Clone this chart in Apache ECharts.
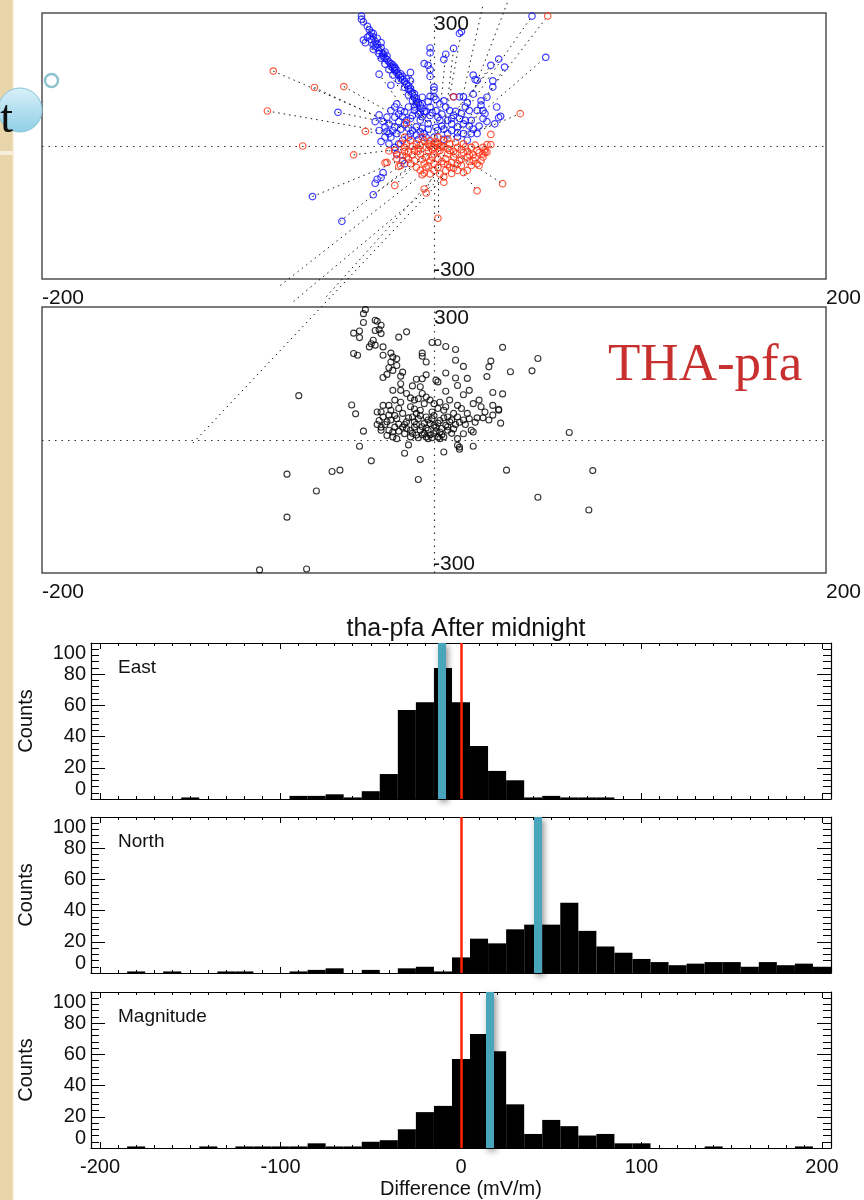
<!DOCTYPE html>
<html>
<head>
<meta charset="utf-8">
<title>tha-pfa After midnight</title>
<script src="https://cdn.jsdelivr.net/npm/echarts@6/dist/echarts.min.js"></script>
<style>
  html, body { margin: 0; padding: 0; background: #fff; }
  #main { width: 864px; height: 1200px; }
</style>
</head>
<body>
<div id="main"></div>
<script>
// histogram bins (mV/m), 10 wide
const binCenters = [-200, -190, -180, -170, -160, -150, -140, -130, -120, -110,
  -100, -90, -80, -70, -60, -50, -40, -30, -20, -10,
  0, 10, 20, 30, 40, 50, 60, 70, 80, 90,
  100, 110, 120, 130, 140, 150, 160, 170, 180, 190, 200];
const eastCounts = [0, 0, 0, 0, 0, 1, 0, 0, 0, 0,
  0, 2, 2, 3, 1, 5, 16, 57, 62, 84,
  62, 34, 18, 12, 1, 2, 1, 1, 1, 0,
  0, 0, 0, 0, 0, 0, 0, 0, 0, 0, 0];
const northCounts = [0, 0, 1, 0, 1, 0, 0, 1, 1, 0,
  0, 1, 2, 3, 0, 2, 0, 3, 4, 1,
  10, 22, 19, 28, 31, 31, 45, 27, 17, 13,
  9, 7, 5, 6, 7, 7, 4, 7, 5, 6, 4];
const magCounts = [0, 0, 1, 0, 0, 0, 1, 0, 1, 1,
  1, 1, 3, 1, 1, 4, 5, 12, 23, 27,
  57, 73, 62, 28, 9, 18, 14, 8, 9, 3,
  3, 0, 0, 0, 1, 0, 0, 0, 0, 1, 0];
const panelNames = ['East', 'North', 'Magnitude'];
const medians = [-10.7, 42.5, 15.7];
const majorTicks = [-200, -100, 0, 100, 200];
const minorTicks = [-200, -190, -180, -170, -160, -150, -140, -130, -120, -110,
  -100, -90, -80, -70, -60, -50, -40, -30, -20, -10,
  0, 10, 20, 30, 40, 50, 60, 70, 80, 90,
  100, 110, 120, 130, 140, 150, 160, 170, 180, 190, 200];

// top panel: east (x) / north (y) components, two data sets
const topBlue = [[-37, 293], [-37, 286], [-32, 256], [-31, 254], [-33, 249], [-31, 246], [-29, 243], [-27, 233],
  [-36, 239], [-35, 233], [-31, 218], [-26, 209], [-26, 201], [-28, 162], [-20, 175], [-19, 171], [-22, 186],
  [-22, 137], [-12, 166], [-12, 147], [-2, 221], [-2, 210], [-5, 186], [-3, 182], [-2, 172], [-2, 157],
  [6, 207], [5, 195], [10, 220], [14, 258], [13, 254], [0, 133], [0, 126], [0, 111], [-2, 112], [10, 111],
  [13, 111], [15, 111], [20, 160], [21, 150], [22, 148], [29, 182], [33, 196], [36, 178], [30, 147], [30, 133],
  [20, 117], [24, 92], [26, 73], [32, 88], [34, 67], [33, 64], [31, 50], [50, 293], [57, 200], [-49, 76],
  [-27, -71], [-30, -84], [-31, -110], [-47, -170], [-62, -114],
  [-22, 80], [-24, 65], [-23, 50], [-19, 95], [-17, 80], [-20, 43], [-19, 28], [-14, 58], [-10, 80], [-7, 58],
  [-3, 50], [2, 65], [7, 58], [12, 43], [15, 28], [17, 13], [19, 28], [22, 28], [-22, 20], [-20, -3],
  [-19, -18], [-15, -40], [-16, -33], [-9, 95], [-2, 88], [3, 95], [8, 80], [14, 73], [16, 58], [-9, 43],
  [-12, 28], [-16, 13], [-5, 28], [2, 35], [7, 28], [-23, 28], [-25, 43], [-20, 65], [-15, 77], [-11, 69],
  [-2, 69], [3, 58], [10, 69], [19, 58], [22, 80], [25, 80],
  [-30, 225], [-28, 215], [-26, 205], [-24, 195], [-22, 180], [-20, 170], [-18, 160], [-16, 150], [-14, 140],
  [-12, 130], [-11, 120], [-10, 110], [-9, 100], [-7, 92], [-6, 85], [-29, 222], [-25, 198], [-21, 176],
  [-17, 154], [-13, 128], [-26, -60], [-29, -75], [-13, 40], [-6, 40], [4, 45], [9, 50], [-18, 55], [0, 20],
  [-8, 15], [5, 15], [12, 20],
  [-36, 280], [-34, 270], [-33, 262], [-34, 245], [-32, 240], [-30, 236], [-29, 230], [-31, 228], [-27, 222],
  [-28, 208], [-25, 212], [-24, 203], [-27, 198], [-23, 190], [-25, 185], [-21, 183], [-20, 178], [-23, 172],
  [-19, 165], [-21, 160], [-17, 163], [-16, 157], [-18, 148], [-15, 145], [-14, 152], [-13, 136], [-15, 132],
  [-12, 124], [-10, 118], [-13, 115], [-9, 108], [-11, 102], [-8, 98], [-6, 95], [-10, 88], [-5, 78], [-7, 75],
  [-20, 88], [-18, 72], [-16, 66], [-13, 88], [-12, 62], [-8, 72], [-6, 66], [-4, 78], [-1, 75], [1, 80],
  [4, 72], [6, 88], [9, 62], [11, 78], [13, 62], [15, 50], [18, 45], [20, 38], [23, 45], [25, 62], [27, 55],
  [-26, 55], [-28, 35], [-24, 33], [-21, 35], [-17, 38], [-15, 48], [-11, 35], [-7, 32], [-3, 38], [1, 42],
  [5, 38], [9, 35], [12, 30], [-25, 20], [-27, 10], [-23, 5], [-18, 5], [-13, 20], [-9, 25], [-4, 20],
  [24, 102], [27, 110], [17, 98], [-3, 100], [1, 105], [-6, 110], [5, 102], [-28, 70], [-30, 55], [18, 80],
  [16, 88]];
const topRed = [[-82, 169], [-61, 132], [-46, 134], [-85, 79], [-35, 33], [-67, 0], [-41, -20], [-24, -37],
  [-20, -89], [-23, -11], [-18, -46], [-15, 20], [-5, -97], [-4, -106], [58, 293], [44, 73], [29, 26], [29, 3],
  [27, 3], [26, -14], [23, -44], [35, -85], [22, -101], [2, -163], [-5, -61], [5, -82], [-25, -38], [-17, -44],
  [10, 111], [-14, 52],
  [-12, 12], [-9, 5], [-5, 12], [-2, 12], [2, 5], [5, 12], [8, 5], [12, -3], [15, 5], [19, -3], [22, -10],
  [25, -18], [-10, -10], [-7, -18], [-3, -10], [0, -18], [3, -10], [7, -18], [10, -25], [13, -33], [17, -25],
  [20, -33], [-14, -25], [-10, -33], [-5, -40], [-2, -33], [2, -48], [5, -40], [8, -48], [12, -55], [17, -55],
  [-7, -55], [-2, -63], [3, -63], [-15, -3], [-13, -14], [-16, -21], [-3, 5], [0, -3], [3, -3], [7, -6],
  [-4, -25], [-1, -25], [2, -29], [6, -29], [9, -37], [14, -44], [19, -44], [22, -40], [25, -25], [27, -14],
  [25, -3], [-6, 20], [2, 20], [7, 16], [-14, 5], [-20, -10], [-19, -29], [-8, -5], [0, 5], [10, -12],
  [15, -15], [-4, -48], [6, -55], [12, -40], [18, -20], [-11, -20],
  [-11, 0], [-8, -12], [-4, -3], [-1, -8], [2, -12], [5, -2], [8, -10], [11, -18], [14, -8], [17, -12],
  [20, -20], [-6, -30], [-3, -45], [0, -40], [4, -35], [7, -42], [10, -50], [14, -30], [18, -35], [21, -27],
  [24, -33], [-12, -40], [-9, -48], [-6, -65], [0, -55], [5, -70], [9, -62], [15, -60], [-17, 5], [-13, -30],
  [-2, 0], [1, 10], [4, 0], [-7, 2], [11, 8], [16, -2], [21, 2], [-19, -20], [-15, -12], [26, -8], [23, -15]];
// dotted connecting lines [x1, y1, x2, y2]
const topLinks = [[-82, 169, -15, 40], [-61, 132, -12, 30], [-46, 134, -10, 45], [-85, 79, -15, 25],
  [-41, -20, -5, 0], [-49, 76, -10, 40], [-62, -114, -5, -10], [-48, -170, -5, -20], [-31, -110, 0, -10],
  [-27, -73, -3, -5], [20, 0, -123, -670], [15, -30, -72, -352], [-5, -60, -80, -320], [0, -70, -56, -345],
  [-37, 293, -5, 60], [-33, 256, -3, 50], [-30, 246, 0, 40], [-35, 239, -8, 70], [10, 20, 25, 318],
  [12, 30, 38, 330], [10, 40, 50, 293], [12, 30, 58, 293], [15, 40, 57, 200], [10, 10, 44, 73],
  [15, 20, 36, 178], [5, 0, 35, -85], [5, -5, 22, -101], [2, -10, 2, -163], [-2, 30, -2, 221],
  [5, 30, 10, 220], [5, 40, 14, 258], [2, 30, 6, 207], [-5, 20, -28, 162], [-5, 10, -12, 166],
  [0, 0, -20, -89], [5, -20, -5, -106], [0, 0, 29, 182], [-36, 280, -4, 55], [-31, 228, -2, 45],
  [-35, 33, 0, 10], [-23, -11, 5, 0], [0, 20, 33, 196], [2, 10, 31, 50], [-3, 10, -25, -38]];

// middle panel: differences
const midBlack = [[-36, 285], [-35, 294], [-36, 265], [-41, 241], [-38, 246], [-38, 231], [-41, 195], [-39, 191],
  [-30, 270], [-29, 268], [-27, 259], [-28, 249], [-27, 240], [-30, 247], [-31, 225], [-32, 217], [-33, 210],
  [-30, 214], [-26, 210], [-26, 191], [-18, 232], [-14, 244], [-22, 196], [-21, 187], [-19, 183], [-22, 176],
  [-19, 168], [-23, 163], [-21, 157], [-16, 153], [-17, 144], [-24, 148], [-26, 141], [-6, 196], [-6, 189],
  [-4, 176], [-4, 147], [-9, 137], [-6, 138], [-7, 120], [-11, 122], [-1, 220], [2, 220], [6, 211], [11, 204],
  [11, 180], [15, 166], [6, 151], [1, 135], [2, 131], [6, 110], [11, 140], [12, 123], [17, 139], [18, 112],
  [15, 102], [35, 209], [29, 178], [28, 165], [27, 143], [39, 154], [30, 107], [35, 104], [53, 184], [50, 156],
  [-69, 100], [69, 17], [-42, 79], [-40, 59], [-36, 20], [-38, -14], [-32, -47], [-75, -77], [-75, -174],
  [-60, -115], [-52, -71], [-48, -68], [-89, -293], [-65, -291], [37, -68], [81, -69], [53, -129], [79, -158],
  [-8, -89], [-7, -44], [-15, -30], [-13, -11], [5, -27], [13, -21], [20, -14], [12, -12], [34, 38], [33, 69],
  [30, 78],
  [-27, 63], [-26, 52], [-28, 44], [-24, 41], [-27, 29], [-23, 22], [-21, 7], [-19, 3], [-22, 67], [-18, 71],
  [-20, 90], [-17, 112], [-14, 105], [-10, 90], [-12, 75], [-9, 60], [-7, 67], [-8, 48], [-10, 41], [-5, 37],
  [-4, 52], [-2, 90], [0, 82], [2, 71], [-1, 63], [-3, 22], [0, 14], [3, 18], [5, 7], [2, 7], [-4, 7],
  [-7, 22], [-12, 22], [-15, 14], [8, 90], [12, 78], [10, 60], [7, 52], [8, 41], [12, 52], [14, 71], [17, 60],
  [20, 82], [23, 90], [24, 75], [26, 63], [30, 56], [33, 67], [19, 22], [20, 18], [15, 14], [12, 3], [13, -16],
  [3, 44], [5, 67], [-5, 82], [-8, 93], [-4, 97], [-23, 78], [-19, 48], [-16, 60], [-14, 41], [-16, 29],
  [-10, 29], [-21, 112], [-17, 127], [-27, 22], [-26, 78], [-29, 63], [-20, 29], [-12, 7], [-9, 11], [-2, 37],
  [1, 29], [4, 26], [7, 22], [3, 3], [-6, 30], [-3, 45], [-11, 52], [-18, 36], [6, 33], [9, 15], [-1, 5],
  [-6, 12], [15, 45], [22, 50], [-24, 10], [0, 55],
  [-25, 35], [-22, 45], [-20, 55], [-18, 20], [-15, 35], [-13, 50], [-11, 15], [-9, 35], [-7, 55], [-5, 15],
  [-4, 27], [-2, 12], [-1, 48], [1, 20], [2, 38], [4, 12], [5, 50], [7, 30], [9, 45], [10, 25], [11, 35],
  [13, 40], [16, 35], [18, 48], [21, 40], [25, 50], [28, 45], [-8, 5], [-3, 3], [-14, 26], [-23, 56],
  [-17, 85], [-12, 95], [-6, 105], [3, 85], [6, 75], [-10, 70], [-29, 35], [-21, 18], [0, 33]];

const FONT = '"Liberation Sans", Arial, Helvetica, sans-serif';
const BIN_HALF = 5;
let myChart = null;

function renderBin(params, api) {
  const start = api.coord([api.value(0) - BIN_HALF, api.value(1)]);
  const end = api.coord([api.value(0) + BIN_HALF, 0]);
  const shape = echarts.graphic.clipRectByRect(
    { x: start[0], y: start[1], width: end[0] - start[0], height: end[1] - start[1] },
    { x: params.coordSys.x, y: params.coordSys.y, width: params.coordSys.width, height: params.coordSys.height }
  );
  return shape && { type: 'rect', shape: shape, style: { fill: '#000' } };
}

function text(str, x, y, size, align, extra) {
  return Object.assign({
    type: 'text',
    z: 50,
    style: {
      text: str, x: x, y: y,
      font: size + 'px ' + FONT,
      fill: '#111',
      align: align, textAlign: align,
      verticalAlign: 'middle', textVerticalAlign: 'middle',
    },
  }, extra || {});
}

function setOption() {
  const counts = [eastCounts, northCounts, magCounts];
  const axisLine = { show: true, onZero: false, lineStyle: { color: '#000', width: 1.2 } };
  const tickStyle = { color: '#000', width: 1 };

  const grid = [
    { left: 42, top: 13, width: 784, height: 266, show: true, borderColor: '#505050', borderWidth: 1.5 },
    { left: 42, top: 307, width: 784, height: 266, show: true, borderColor: '#505050', borderWidth: 1.5 },
  ];
  const xAxis = [
    { gridIndex: 0, type: 'value', min: -200, max: 200, show: false },
    { gridIndex: 1, type: 'value', min: -200, max: 200, show: false },
  ];
  const yAxis = [
    { gridIndex: 0, type: 'value', min: -300, max: 300, show: false },
    { gridIndex: 1, type: 'value', min: -300, max: 300, show: false },
  ];

  const cross = {
    symbol: 'none',
    silent: true,
    label: { show: false },
    lineStyle: { color: '#333', type: [1.5, 5], width: 1.2 },
    data: [{ xAxis: 0 }, { yAxis: 0 }],
  };
  const series = [
    {
      type: 'lines', coordinateSystem: 'cartesian2d', xAxisIndex: 0, yAxisIndex: 0,
      clip: false, silent: true, z: 2,
      lineStyle: { color: '#000', width: 1, type: [1.5, 4], opacity: 0.9 },
      data: topLinks.map((s) => ({ coords: [[s[0], s[1]], [s[2], s[3]]] })),
    },
    {
      type: 'scatter', xAxisIndex: 0, yAxisIndex: 0, z: 3, symbol: 'circle', symbolSize: 6.5,
      itemStyle: { color: 'rgba(0,0,0,0)', borderColor: '#1010ff', borderWidth: 1.2 },
      data: topBlue, markLine: cross,
    },
    {
      type: 'scatter', xAxisIndex: 0, yAxisIndex: 0, z: 4, symbol: 'circle', symbolSize: 6.5,
      itemStyle: { color: 'rgba(0,0,0,0)', borderColor: '#ff3010', borderWidth: 1.2 },
      data: topRed,
    },
    {
      type: 'scatter', xAxisIndex: 1, yAxisIndex: 1, z: 3, symbol: 'circle', symbolSize: 6,
      itemStyle: { color: 'rgba(0,0,0,0)', borderColor: '#000', borderWidth: 1.1 },
      data: midBlack, markLine: cross,
    },
  ];

  const histTops = [643, 817, 992];
  histTops.forEach((top, h) => {
    const g = 2 + h;
    const xi = 2 + 4 * h;
    const yi = 2 + 2 * h;
    const isLast = h === 2;
    grid.push({ left: 91, top: top, width: 740, height: 156 });
    xAxis.push(
      {
        gridIndex: g, type: 'value', min: -205, max: 205, position: 'bottom',
        axisLine: axisLine,
        axisTick: { show: true, inside: true, length: 6, customValues: majorTicks, lineStyle: tickStyle },
        axisLabel: {
          show: isLast, customValues: majorTicks, fontSize: 20, fontFamily: FONT, color: '#111', margin: 9,
        },
        splitLine: { show: false },
        name: isLast ? 'Difference (mV/m)' : '',
        nameLocation: 'middle', nameGap: 31,
        nameTextStyle: { fontSize: 20, fontFamily: FONT, color: '#111' },
      },
      {
        gridIndex: g, type: 'value', min: -205, max: 205, position: 'bottom',
        axisLine: { show: false, onZero: false },
        axisTick: { show: true, inside: true, length: 3, customValues: minorTicks, lineStyle: tickStyle },
        axisLabel: { show: false, customValues: minorTicks },
        splitLine: { show: false },
      },
      {
        gridIndex: g, type: 'value', min: -205, max: 205, position: 'top',
        axisLine: axisLine,
        axisTick: { show: true, inside: true, length: 6, customValues: majorTicks, lineStyle: tickStyle },
        axisLabel: { show: false, customValues: majorTicks },
        splitLine: { show: false },
      },
      {
        gridIndex: g, type: 'value', min: -205, max: 205, position: 'top',
        axisLine: { show: false, onZero: false },
        axisTick: { show: true, inside: true, length: 3, customValues: minorTicks, lineStyle: tickStyle },
        axisLabel: { show: false, customValues: minorTicks },
        splitLine: { show: false },
      }
    );
    yAxis.push(
      {
        gridIndex: g, type: 'value', min: 0, max: 100, interval: 20, position: 'left',
        axisLine: axisLine,
        axisTick: { show: true, inside: true, length: 14, lineStyle: tickStyle },
        minorTick: { show: true, splitNumber: 5, length: 8, lineStyle: tickStyle },
        axisLabel: {
          fontSize: 20, fontFamily: FONT, color: '#111', margin: 5,
          verticalAlignMinLabel: 'bottom', verticalAlignMaxLabel: 'top',
        },
        splitLine: { show: false },
        name: 'Counts', nameLocation: 'middle', nameGap: 55, nameRotate: 90,
        nameTextStyle: { fontSize: 20, fontFamily: FONT, color: '#111' },
      },
      {
        gridIndex: g, type: 'value', min: 0, max: 100, interval: 20, position: 'right',
        axisLine: axisLine,
        axisTick: { show: true, inside: true, length: 14, lineStyle: tickStyle },
        minorTick: { show: true, splitNumber: 5, length: 8, lineStyle: tickStyle },
        axisLabel: { show: false },
        splitLine: { show: false },
      }
    );
    series.push(
      {
        type: 'custom', xAxisIndex: xi, yAxisIndex: yi, z: 2,
        renderItem: renderBin,
        encode: { x: 0, y: 1 },
        data: binCenters.map((c, i) => [c, counts[h][i]]),
      },
      {
        type: 'line', xAxisIndex: xi, yAxisIndex: yi, z: 5,
        data: [[medians[h], 0]], showSymbol: false, lineStyle: { opacity: 0 },
        markLine: {
          symbol: 'none', silent: true, label: { show: false },
          data: [
            { xAxis: 0, lineStyle: { color: '#ff2200', width: 2.5, type: 'solid' } },
            {
              xAxis: medians[h],
              lineStyle: {
                color: '#48a6bc', width: 8, type: 'solid',
                shadowBlur: 6, shadowColor: 'rgba(0,0,0,0.45)', shadowOffsetX: 2, shadowOffsetY: 3,
              },
            },
          ],
        },
      }
    );
  });

  const panelLabelY = [668, 842, 1017];
  const graphic = [
    // slide decoration at the left edge
    { type: 'rect', shape: { x: 0, y: 0, width: 14, height: 1200 }, style: { fill: '#e8d6aa' }, z: 40 },
    { type: 'rect', shape: { x: 12.5, y: 0, width: 1.5, height: 1200 }, style: { fill: '#f7efdc' }, z: 41 },
    { type: 'rect', shape: { x: 0, y: 151, width: 14, height: 4 }, style: { fill: '#f6eedb' }, z: 41 },
    {
      type: 'circle', shape: { cx: 20, cy: 110, r: 22 }, z: 42,
      style: {
        fill: new echarts.graphic.LinearGradient(0, 0, 0, 1, [
          { offset: 0, color: '#d9f0f8' }, { offset: 1, color: '#8fcfe6' },
        ]),
        stroke: '#86c3d8', lineWidth: 1,
      },
    },
    {
      type: 'text', z: 43,
      style: {
        text: 't', x: 13, y: 143, font: '46px "Liberation Serif", "Times New Roman", serif', fill: '#111',
        align: 'right', textAlign: 'right', verticalAlign: 'bottom', textVerticalAlign: 'bottom',
      },
    },
    { type: 'circle', shape: { cx: 51.5, cy: 80.5, r: 6.5 }, style: { fill: '#fff', stroke: '#8ec3cf', lineWidth: 2.5 }, z: 42 },
    // scatter panel axis values
    text('300', 434, 24, 21, 'left'),
    text('-300', 433, 270, 21, 'left'),
    text('300', 434, 318, 21, 'left'),
    text('-300', 433, 564, 21, 'left'),
    text('-200', 42, 298, 21, 'left'),
    text('200', 826, 298, 21, 'left'),
    text('-200', 42, 592, 21, 'left'),
    text('200', 826, 592, 21, 'left'),
    {
      type: 'text', z: 50,
      style: {
        text: 'THA-pfa', x: 608, y: 366, font: '53px "Liberation Serif", "Times New Roman", serif',
        fill: '#c8302f', align: 'left', textAlign: 'left', verticalAlign: 'middle', textVerticalAlign: 'middle',
      },
    },
  ];
  panelNames.forEach((name, h) => {
    graphic.push(text(name, 118, panelLabelY[h], 19, 'left'));
  });

  const options = {
    animation: false,
    backgroundColor: '#fff',
    title: {
      text: 'tha-pfa After midnight',
      left: 461,
      top: 612,
      textAlign: 'center',
      textStyle: { fontSize: 25, fontWeight: 'normal', fontFamily: FONT, color: '#111' },
    },
    grid: grid,
    xAxis: xAxis,
    yAxis: yAxis,
    series: series,
    graphic: graphic,
  };
  if (myChart) {
    myChart.setOption(options);
  }
}

function initChart() {
  const dom = document.getElementById('main');
  if (dom) {
    myChart = echarts.init(dom, null, { renderer: 'canvas' });
    setOption();
  }
}

initChart();
</script>
</body>
</html>
